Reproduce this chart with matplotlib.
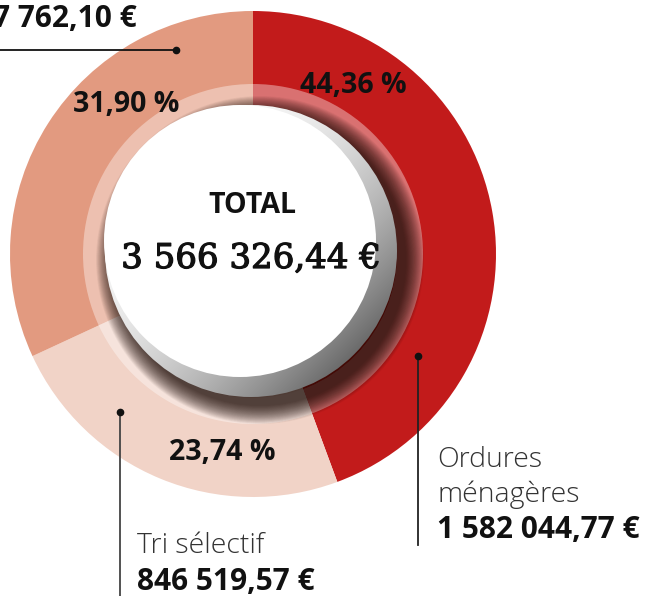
import numpy as np
import matplotlib
matplotlib.use("Agg")
import matplotlib.pyplot as plt
import matplotlib.patheffects as pe
from matplotlib.patches import Circle, Wedge

# Data
categories = ["Ordures\nménagères", "Tri sélectif", ""]
amounts = [1582044.77, 846519.57, 1137762.10]
colors = ["#C21B1B", "#F1D3C7", "#E29A80"]


def fr_money(v):
    s = f"{v:,.2f}"
    return s.replace(",", " ").replace(".", ",") + " €"


total = sum(amounts)
pct_labels = [f"{a / total * 100:.2f}".replace(".", ",") + " %" for a in amounts]

W, H = 648, 596
fig = plt.figure(figsize=(W / 100, H / 100), dpi=100)
ax = fig.add_axes([0, 0, 1, 1])


def Y(y):  # picture y (top-down) -> axes y
    return H - y


cx, cy, R = 253, Y(254), 243

# Donut (full pie, covered in the middle)
ax.pie(amounts, colors=colors, startangle=90, counterclock=False,
       center=(cx, cy), radius=R, wedgeprops=dict(linewidth=0))

# light halo round the inner edge
ax.add_patch(Wedge((cx, cy), 170, 0, 360, width=26, fc="white", alpha=0.38,
                   lw=0, zorder=2))

# soft shadow to the lower right
bx, by, br = 251, Y(251), 146
for i in range(34):
    r = 164 - i * 0.55
    ax.add_patch(Circle((bx + 9, by - 9), r, fc="#1a0a05", alpha=0.035,
                        lw=0, zorder=3))

# grey bevel with a diagonal gradient
n = 300
g = np.linspace(-1, 1, n)
xx, yy = np.meshgrid(g, g)
s = np.clip(((xx - yy) / 2 + 1) / 2, 0, 1)
shade = 1 - 0.85 * s ** 2.4
img = np.dstack([shade, shade, shade])
im = ax.imshow(img, extent=(bx - br, bx + br, by - br, by + br),
               origin="lower", zorder=4, interpolation="bilinear")
clip = Circle((bx, by), br, transform=ax.transData)
im.set_clip_path(clip)

# white centre
ax.add_patch(Circle((240, Y(241)), 136, fc="white", lw=0, zorder=5))

ax.set_xlim(0, W)
ax.set_ylim(0, H)
ax.set_aspect("equal")
ax.axis("off")

sans = ["Open Sans", "DejaVu Sans"]

# percentages on the ring
pct_pos = [(353, 93), (222, 460), (126, 112)]
for lab, (x, y) in zip(pct_labels, pct_pos):
    ax.text(x, Y(y), lab, ha="center", va="baseline", fontsize=20.5,
            fontweight="bold", family=sans, color="#111111", zorder=6)

# centre text
ax.text(252, Y(213), "TOTAL", ha="center", va="baseline", fontsize=20.5,
        fontweight="bold", family=sans, color="#111111", zorder=6)
ax.text(251, Y(268), fr_money(total), ha="center", va="baseline",
        fontsize=24.5, family=["DejaVu Serif"], color="#111111", zorder=6,
        path_effects=[pe.withStroke(linewidth=0.9, foreground="#111111")])

# leader lines and dots
ax.plot([418, 418], [Y(356), Y(545)], color="#222222", lw=1.3, zorder=6)
ax.plot(418, Y(356), "o", color="#111111", ms=4.5, zorder=7)
ax.plot([120, 120], [Y(412), Y(600)], color="#444444", lw=1.3, zorder=6)
ax.plot(120, Y(412), "o", color="#111111", ms=4.5, zorder=7)
ax.plot([-5, 176], [Y(50), Y(50)], color="#111111", lw=1.3, zorder=6)
ax.plot(176, Y(50), "o", color="#111111", ms=4.5, zorder=7)

# category labels
ax.text(437, Y(467), "Ordures", ha="left", va="baseline", fontsize=20.5,
        fontweight="light", family=sans, color="#333333")
ax.text(437, Y(502), "ménagères", ha="left", va="baseline", fontsize=20.5,
        fontweight="light", family=sans, color="#333333")
ax.text(437, Y(538), fr_money(amounts[0]), ha="left", va="baseline",
        fontsize=21.5, fontweight="bold", family=sans, color="#111111")

ax.text(137, Y(553), categories[1], ha="left", va="baseline", fontsize=20.5,
        fontweight="light", family=sans, color="#333333")
ax.text(137, Y(590), fr_money(amounts[1]), ha="left", va="baseline",
        fontsize=21.5, fontweight="bold", family=sans, color="#111111")

ax.text(137, Y(27), fr_money(amounts[2]), ha="right", va="baseline",
        fontsize=21.5, fontweight="bold", family=sans, color="#111111")

fig.savefig("out.png", dpi=100)
